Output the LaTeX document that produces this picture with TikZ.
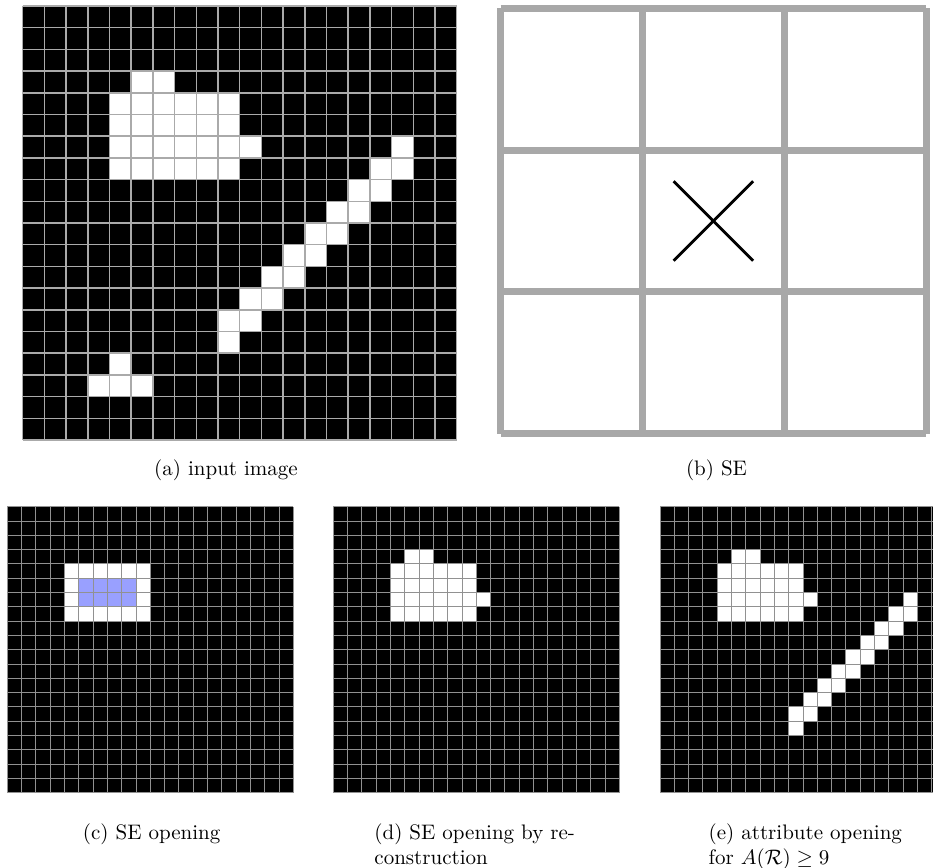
\documentclass[tikz,border=0pt]{standalone}
\definecolor{gridgray}{RGB}{170,170,170}
\definecolor{finegray}{RGB}{145,145,145}
\definecolor{segray}{RGB}{168,168,168}
\definecolor{seblue}{RGB}{153,160,255}

\begin{document}
\begin{tikzpicture}[
        x=0.476pt,
        y=-0.476pt,
        bigline/.style={draw=gridgray, line width=0.75pt},
        smallline/.style={draw=finegray, line width=0.4pt},
        seline/.style={draw=segray, line width=3.3pt},
        cross/.style={draw=black, line width=1.4pt},
        pixel/.style={fill=white},
        caption/.style={inner sep=0pt}
    ]
    \clip (0,0) rectangle (933,868);

    % (a) input image
    \begin{scope}[shift={(22.7,6)}, scale=21.7]
        \fill[black] (0,0) rectangle (20,20);
        \fill[pixel] (5,3) rectangle (7,4);
        \fill[pixel] (4,4) rectangle (10,8);
        \fill[pixel] (10,6) rectangle (11,7);
        \fill[pixel] (17,6) rectangle (18,7);
        \foreach \r in {7,...,14}
            \fill[pixel] ({23-\r},\r) rectangle ++(2,1);
        \fill[pixel] (9,15) rectangle (10,16);
        \fill[pixel] (4,16) rectangle (5,17);
        \fill[pixel] (3,17) rectangle (6,18);
        \foreach \i in {0,...,20}
            \draw[bigline] (\i,0) -- (\i,20) (0,\i) -- (20,\i);
    \end{scope}
    \node[caption, anchor=base] (capA) at (226,476) {(a) input image};

    % (b) SE
    \begin{scope}[shift={(500.7,8.3)}, scale=141.8]
        \foreach \i in {0,...,3}
            \draw[seline] (\i,0) -- (\i,3) (0,\i) -- (3,\i);
        \draw[cross] (1.22,1.22) -- (1.78,1.78);
        \draw[cross] (1.22,1.78) -- (1.78,1.22);
    \end{scope}
    \node[caption, anchor=base] (capB) at (716.5,476) {(b) SE};

    % (c) SE opening
    \begin{scope}[shift={(7.3,506.7)}, scale=14.3]
        \fill[black] (0,0) rectangle (20,20);
        \fill[pixel] (4,4) rectangle (10,8);
        \fill[seblue] (5,5) rectangle (9,7);
        \foreach \i in {0,...,20}
            \draw[smallline] (\i,0) -- (\i,20) (0,\i) -- (20,\i);
    \end{scope}
    \node[caption, anchor=base] (capC) at (151.7,840) {(c) SE opening};

    % (d) SE opening by reconstruction
    \begin{scope}[shift={(333.3,506.7)}, scale=14.3]
        \fill[black] (0,0) rectangle (20,20);
        \fill[pixel] (5,3) rectangle (7,4);
        \fill[pixel] (4,4) rectangle (10,8);
        \fill[pixel] (10,6) rectangle (11,7);
        \foreach \i in {0,...,20}
            \draw[smallline] (\i,0) -- (\i,20) (0,\i) -- (20,\i);
    \end{scope}
    \node[caption, anchor=north west, align=left] (capD) at (374,823.3)
        {(d) SE opening by re-\\construction};

    % (e) attribute opening
    \begin{scope}[shift={(660,506.7)}, scale=14.3]
        \fill[black] (0,0) rectangle (20,20);
        \fill[pixel] (5,3) rectangle (7,4);
        \fill[pixel] (4,4) rectangle (10,8);
        \fill[pixel] (10,6) rectangle (11,7);
        \fill[pixel] (17,6) rectangle (18,7);
        \foreach \r in {7,...,14}
            \fill[pixel] ({23-\r},\r) rectangle ++(2,1);
        \fill[pixel] (9,15) rectangle (10,16);
        \foreach \i in {0,...,20}
            \draw[smallline] (\i,0) -- (\i,20) (0,\i) -- (20,\i);
    \end{scope}
    \node[caption, anchor=north west, align=left] (capE) at (708.3,823.3)
        {(e) attribute opening\\for $A(\mathcal{R})\geq 9$};

\end{tikzpicture}
\end{document}
